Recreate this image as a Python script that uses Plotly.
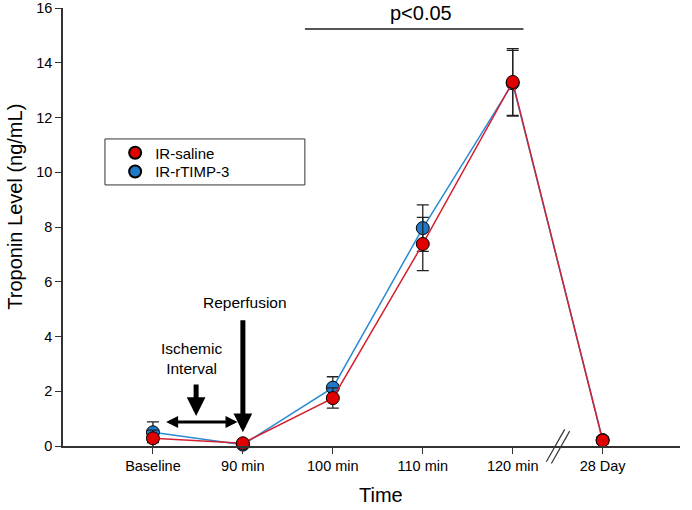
import plotly.graph_objects as go

categories = ["Baseline", "90 min", "100 min", "110 min", "120 min", "28 Day"]
xpos = [0, 1, 2, 3, 4, 5]

saline = [0.28, 0.10, 1.75, 7.38, 13.30, 0.20]
saline_err = [0.30, 0.05, 0.37, 0.97, 1.22, 0.12]
timp = [0.50, 0.05, 2.13, 7.96, 13.25, 0.22]
timp_err = [0.38, 0.05, 0.40, 0.85, 1.20, 0.12]

RED = "#e00000"
RED_LINE = "#d42030"
BLUE = "#1f78c8"
BLUE_LINE = "#2a8ad4"
FONT = "Liberation Sans, Arial, sans-serif"

fig = go.Figure()

fig.add_trace(go.Scatter(
    x=xpos, y=timp, mode="lines+markers", name="IR-rTIMP-3", showlegend=False,
    line=dict(color=BLUE_LINE, width=1.5),
    marker=dict(color=BLUE, size=13, line=dict(color="black", width=1)),
    error_y=dict(type="data", array=timp_err, color="#222", thickness=1.3, width=6),
    cliponaxis=False,
))
fig.add_trace(go.Scatter(
    x=xpos, y=saline, mode="lines+markers", name="IR-saline", showlegend=False,
    line=dict(color=RED_LINE, width=1.5),
    marker=dict(color=RED, size=13, line=dict(color="black", width=1)),
    error_y=dict(type="data", array=saline_err, color="#222", thickness=1.3, width=6),
    cliponaxis=False,
))
# legend-only entries (markers only)
fig.add_trace(go.Scatter(x=[None], y=[None], mode="markers", name="IR-saline", legend="legend",
                         marker=dict(color=RED, size=13, line=dict(color="black", width=1))))
fig.add_trace(go.Scatter(x=[None], y=[None], mode="markers", name="IR-rTIMP-3", legend="legend2",
                         marker=dict(color=BLUE, size=13, line=dict(color="black", width=1))))

leg_common = dict(xanchor="left", yanchor="middle", bgcolor="rgba(0,0,0,0)", borderwidth=0,
                  font=dict(size=15, family=FONT), itemsizing="constant")

fig.update_layout(
    width=692, height=510,
    margin=dict(l=63, r=12, t=8, b=64),
    plot_bgcolor="white", paper_bgcolor="white",
    font=dict(family=FONT, color="black"),
    showlegend=True,
    legend=dict(x=0.0845, y=0.669, **leg_common),
    legend2=dict(x=0.0845, y=0.626, **leg_common),
    xaxis=dict(range=[-1, 5.86], tickmode="array", tickvals=xpos, ticktext=categories,
               showgrid=False, zeroline=False, showline=True, linecolor="#333", linewidth=1.5,
               ticks="outside", ticklen=6, tickcolor="#333", tickwidth=1.2, automargin=False,
               tickfont=dict(size=14.5)),
    yaxis=dict(range=[0, 16.001], tickvals=[0, 2, 4, 6, 8, 10, 12, 14, 16],
               showgrid=False, zeroline=False, showline=True, linecolor="#333", linewidth=1.5,
               ticks="outside", ticklen=6, tickcolor="#333", tickwidth=1.2, automargin=False,
               tickfont=dict(size=14.5)),
)

# axis titles as annotations (positioned like reference)
fig.add_annotation(xref="paper", yref="paper", x=-0.078, y=0.546, text="Troponin Level (ng/mL)",
                   textangle=-90, showarrow=False, xanchor="center", yanchor="middle",
                   font=dict(size=20))
fig.add_annotation(xref="paper", yref="paper", x=0.515, y=-0.112, text="Time",
                   showarrow=False, xanchor="center", yanchor="middle", font=dict(size=20))

# legend box
fig.add_shape(type="rect", xref="paper", yref="paper", x0=0.068, x1=0.392, y0=0.596, y1=0.701,
              line=dict(color="#333", width=1), fillcolor="rgba(0,0,0,0)")

# significance bar
fig.add_shape(type="line", xref="x", yref="y", x0=1.69, x1=4.12, y0=15.23, y1=15.23,
              line=dict(color="#555", width=2))
fig.add_annotation(x=2.98, y=15.23, xref="x", yref="y", text="p<0.05", showarrow=False,
                   yanchor="bottom", yshift=3, font=dict(size=20))

# Reperfusion arrow
fig.add_annotation(x=1, y=0.5, ax=1, ay=4.65, xref="x", yref="y", axref="x", ayref="y",
                   text="", showarrow=True, arrowhead=2, arrowwidth=5, arrowsize=0.75,
                   arrowcolor="black")
fig.add_annotation(x=1.02, y=5.25, xref="x", yref="y", text="Reperfusion", showarrow=False,
                   font=dict(size=15.5))

# Ischemic interval
fig.add_annotation(x=0.43, y=3.18, xref="x", yref="y", text="Ischemic<br>Interval",
                   showarrow=False, font=dict(size=15.5))
fig.add_annotation(x=0.48, y=1.1, ax=0.48, ay=2.3, xref="x", yref="y", axref="x", ayref="y",
                   text="", showarrow=True, arrowhead=2, arrowwidth=5, arrowsize=0.75,
                   arrowcolor="black")
fig.add_annotation(x=0.94, y=0.88, ax=0.13, ay=0.88, xref="x", yref="y", axref="x", ayref="y",
                   text="", showarrow=True, arrowhead=2, startarrowhead=2, arrowside="end+start",
                   arrowwidth=3, arrowsize=0.8, startarrowsize=0.8, arrowcolor="black")

# axis break marks
for x0, x1, y0, y1 in [(4.374, 4.578, -0.036, 0.038), (4.43, 4.633, -0.040, 0.034)]:
    fig.add_shape(type="line", xref="x", yref="paper", x0=x0, x1=x1, y0=y0, y1=y1,
                  line=dict(color="#333", width=1.2))

fig.write_html("out.html", config={"displayModeBar": False},
               post_script="document.body.style.margin='0px';document.body.style.overflow='hidden';")
